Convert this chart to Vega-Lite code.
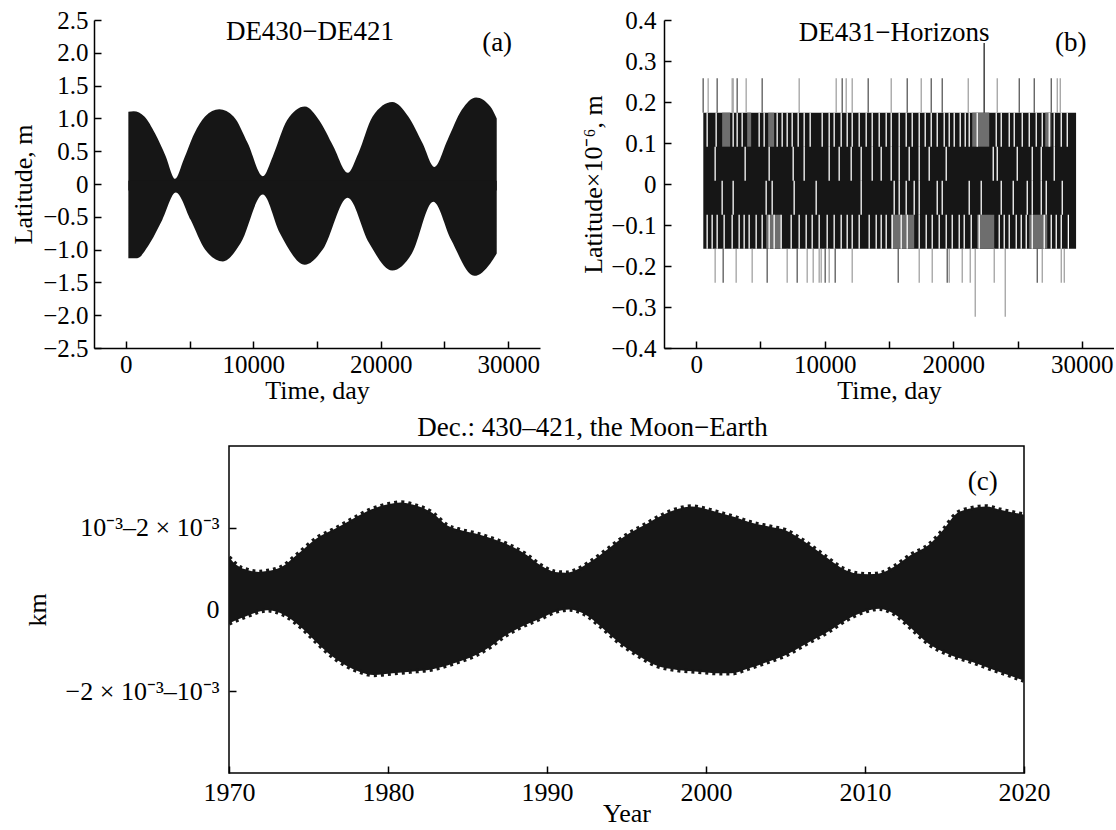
{
  "$schema": "https://vega.github.io/schema/vega-lite/v6.json",
  "background": "white",
  "padding": {"left": 10, "top": 8, "right": 0, "bottom": 0},
  "config": {
    "font": "Liberation Serif",
    "view": {"stroke": null},
    "axis": {
      "grid": false,
      "domainColor": "black",
      "domainWidth": 1.5,
      "tickColor": "black",
      "tickWidth": 1.5,
      "tickSize": -7,
      "labelColor": "black",
      "titleColor": "black",
      "labelFont": "Liberation Serif",
      "titleFont": "Liberation Serif",
      "labelFontSize": 25,
      "titleFontSize": 26,
      "titleFontWeight": "normal",
      "labelOverlap": false,
      "labelFlush": false
    },
    "text": {"font": "Liberation Serif", "fontSize": 27, "color": "black"},
    "title": {"font": "Liberation Serif", "fontSize": 27, "fontWeight": "normal", "color": "black"}
  },
  "datasets": {
    "aUp": [
      {"day": 196, "v": 1.10}, {"day": 615, "v": 1.11}, {"day": 1455, "v": 1.03}, {"day": 2295, "v": 0.77},
      {"day": 3134, "v": 0.42}, {"day": 3860, "v": 0.08}, {"day": 4534, "v": 0.37}, {"day": 5373, "v": 0.77},
      {"day": 6213, "v": 1.03}, {"day": 7332, "v": 1.14}, {"day": 8451, "v": 1.03}, {"day": 9571, "v": 0.62},
      {"day": 10746, "v": 0.12}, {"day": 11530, "v": 0.42}, {"day": 12649, "v": 0.97}, {"day": 14049, "v": 1.18},
      {"day": 15168, "v": 0.97}, {"day": 16287, "v": 0.57}, {"day": 17407, "v": 0.17}, {"day": 18246, "v": 0.47},
      {"day": 19366, "v": 1.03}, {"day": 20905, "v": 1.25}, {"day": 22164, "v": 1.03}, {"day": 23284, "v": 0.62},
      {"day": 24207, "v": 0.26}, {"day": 25243, "v": 0.67}, {"day": 26362, "v": 1.13}, {"day": 27481, "v": 1.32},
      {"day": 28601, "v": 1.18}, {"day": 29104, "v": 1.00}
    ],
    "aLo": [
      {"day": 196, "v": -1.13}, {"day": 895, "v": -1.13}, {"day": 1735, "v": -0.95}, {"day": 2855, "v": -0.55},
      {"day": 3918, "v": -0.13}, {"day": 5093, "v": -0.55}, {"day": 6213, "v": -1.0}, {"day": 7612, "v": -1.18},
      {"day": 9011, "v": -0.90}, {"day": 10746, "v": -0.16}, {"day": 12090, "v": -0.75}, {"day": 14049, "v": -1.23},
      {"day": 15448, "v": -1.0}, {"day": 17407, "v": -0.21}, {"day": 19086, "v": -0.90}, {"day": 20905, "v": -1.32},
      {"day": 22444, "v": -1.06}, {"day": 24123, "v": -0.27}, {"day": 25522, "v": -0.85}, {"day": 27341, "v": -1.40},
      {"day": 28601, "v": -1.21}, {"day": 29104, "v": -1.06}
    ],
    "bBand": [{"day": 557, "day2": 29550, "lo": -0.158, "hi": 0.174}],
    "bGray": [
      {"day": 2023, "day2": 2645, "lo": 0.091, "hi": 0.174},
      {"day": 3968, "day2": 4279, "lo": 0.091, "hi": 0.174},
      {"day": 5602, "day2": 6068, "lo": 0.091, "hi": 0.174},
      {"day": 21473, "day2": 22795, "lo": 0.091, "hi": 0.174},
      {"day": 27152, "day2": 27619, "lo": 0.091, "hi": 0.174},
      {"day": 5446, "day2": 6613, "lo": -0.158, "hi": -0.075},
      {"day": 15171, "day2": 16960, "lo": -0.158, "hi": -0.075},
      {"day": 21862, "day2": 23184, "lo": -0.158, "hi": -0.075},
      {"day": 25907, "day2": 27308, "lo": -0.158, "hi": -0.075}
    ],
    "bGaps": [
      {"day": 856, "lo": 0.091, "hi": 0.174}, {"day": 1556, "lo": 0.091, "hi": 0.174}, {"day": 2879, "lo": 0.091, "hi": 0.174},
      {"day": 3190, "lo": 0.091, "hi": 0.174}, {"day": 3579, "lo": 0.091, "hi": 0.174}, {"day": 4901, "lo": 0.091, "hi": 0.174},
      {"day": 5290, "lo": 0.091, "hi": 0.174}, {"day": 6302, "lo": 0.091, "hi": 0.174}, {"day": 6691, "lo": 0.091, "hi": 0.174},
      {"day": 7080, "lo": 0.091, "hi": 0.174}, {"day": 7469, "lo": 0.091, "hi": 0.174}, {"day": 7936, "lo": 0.091, "hi": 0.174},
      {"day": 8402, "lo": 0.091, "hi": 0.174}, {"day": 8869, "lo": 0.091, "hi": 0.174}, {"day": 9803, "lo": 0.091, "hi": 0.174},
      {"day": 10347, "lo": 0.091, "hi": 0.174}, {"day": 10736, "lo": 0.091, "hi": 0.174}, {"day": 11281, "lo": 0.091, "hi": 0.174},
      {"day": 11748, "lo": 0.091, "hi": 0.174}, {"day": 12137, "lo": 0.091, "hi": 0.174}, {"day": 12681, "lo": 0.091, "hi": 0.174},
      {"day": 13226, "lo": 0.091, "hi": 0.174}, {"day": 13693, "lo": 0.091, "hi": 0.174}, {"day": 14237, "lo": 0.091, "hi": 0.174},
      {"day": 14782, "lo": 0.091, "hi": 0.174}, {"day": 15171, "lo": 0.091, "hi": 0.174}, {"day": 15793, "lo": 0.091, "hi": 0.174},
      {"day": 16338, "lo": 0.091, "hi": 0.174}, {"day": 16805, "lo": 0.091, "hi": 0.174}, {"day": 17349, "lo": 0.091, "hi": 0.174},
      {"day": 17816, "lo": 0.091, "hi": 0.174}, {"day": 18283, "lo": 0.091, "hi": 0.174}, {"day": 18750, "lo": 0.091, "hi": 0.174},
      {"day": 19294, "lo": 0.091, "hi": 0.174}, {"day": 19683, "lo": 0.091, "hi": 0.174}, {"day": 20072, "lo": 0.091, "hi": 0.174},
      {"day": 20539, "lo": 0.091, "hi": 0.174}, {"day": 20928, "lo": 0.091, "hi": 0.174}, {"day": 21239, "lo": 0.091, "hi": 0.174},
      {"day": 21862, "lo": 0.091, "hi": 0.174}, {"day": 23340, "lo": 0.091, "hi": 0.174}, {"day": 23729, "lo": 0.091, "hi": 0.174},
      {"day": 24351, "lo": 0.091, "hi": 0.174}, {"day": 24740, "lo": 0.091, "hi": 0.174}, {"day": 25363, "lo": 0.091, "hi": 0.174},
      {"day": 25907, "lo": 0.091, "hi": 0.174}, {"day": 26452, "lo": 0.091, "hi": 0.174}, {"day": 26919, "lo": 0.091, "hi": 0.174},
      {"day": 27463, "lo": 0.091, "hi": 0.174}, {"day": 27852, "lo": 0.091, "hi": 0.174}, {"day": 28397, "lo": 0.091, "hi": 0.174},
      {"day": 28864, "lo": 0.091, "hi": 0.174},
      {"day": 1478, "lo": 0.008, "hi": 0.091}, {"day": 3812, "lo": 0.008, "hi": 0.091}, {"day": 5679, "lo": 0.008, "hi": 0.091},
      {"day": 7547, "lo": 0.008, "hi": 0.091}, {"day": 8402, "lo": 0.008, "hi": 0.091}, {"day": 10347, "lo": 0.008, "hi": 0.091},
      {"day": 11125, "lo": 0.008, "hi": 0.091}, {"day": 12059, "lo": 0.008, "hi": 0.091}, {"day": 12837, "lo": 0.008, "hi": 0.091},
      {"day": 13693, "lo": 0.008, "hi": 0.091}, {"day": 14393, "lo": 0.008, "hi": 0.091}, {"day": 15171, "lo": 0.008, "hi": 0.091},
      {"day": 15793, "lo": 0.008, "hi": 0.091}, {"day": 16571, "lo": 0.008, "hi": 0.091}, {"day": 17349, "lo": 0.008, "hi": 0.091},
      {"day": 18127, "lo": 0.008, "hi": 0.091}, {"day": 19450, "lo": 0.008, "hi": 0.091}, {"day": 23107, "lo": 0.008, "hi": 0.091},
      {"day": 23418, "lo": 0.008, "hi": 0.091}, {"day": 24974, "lo": 0.008, "hi": 0.091}, {"day": 26141, "lo": 0.008, "hi": 0.091},
      {"day": 26841, "lo": 0.008, "hi": 0.091}, {"day": 27852, "lo": 0.008, "hi": 0.091},
      {"day": 2023, "lo": -0.075, "hi": 0.008}, {"day": 2879, "lo": -0.075, "hi": 0.008}, {"day": 5446, "lo": -0.075, "hi": 0.008},
      {"day": 5913, "lo": -0.075, "hi": 0.008}, {"day": 7624, "lo": -0.075, "hi": 0.008}, {"day": 9336, "lo": -0.075, "hi": 0.008},
      {"day": 12837, "lo": -0.075, "hi": 0.008}, {"day": 15404, "lo": -0.075, "hi": 0.008}, {"day": 15793, "lo": -0.075, "hi": 0.008},
      {"day": 16338, "lo": -0.075, "hi": 0.008}, {"day": 16960, "lo": -0.075, "hi": 0.008}, {"day": 17349, "lo": -0.075, "hi": 0.008},
      {"day": 18750, "lo": -0.075, "hi": 0.008}, {"day": 19139, "lo": -0.075, "hi": 0.008}, {"day": 21239, "lo": -0.075, "hi": 0.008},
      {"day": 22173, "lo": -0.075, "hi": 0.008}, {"day": 23729, "lo": -0.075, "hi": 0.008}, {"day": 24663, "lo": -0.075, "hi": 0.008},
      {"day": 25752, "lo": -0.075, "hi": 0.008}, {"day": 26141, "lo": -0.075, "hi": 0.008}, {"day": 26841, "lo": -0.075, "hi": 0.008},
      {"day": 27230, "lo": -0.075, "hi": 0.008}, {"day": 28475, "lo": -0.075, "hi": 0.008},
      {"day": 856, "lo": -0.158, "hi": -0.075}, {"day": 1245, "lo": -0.158, "hi": -0.075}, {"day": 1634, "lo": -0.158, "hi": -0.075},
      {"day": 2178, "lo": -0.158, "hi": -0.075}, {"day": 2801, "lo": -0.158, "hi": -0.075}, {"day": 3345, "lo": -0.158, "hi": -0.075},
      {"day": 3734, "lo": -0.158, "hi": -0.075}, {"day": 4123, "lo": -0.158, "hi": -0.075}, {"day": 4668, "lo": -0.158, "hi": -0.075},
      {"day": 5135, "lo": -0.158, "hi": -0.075}, {"day": 5679, "lo": -0.158, "hi": -0.075}, {"day": 6068, "lo": -0.158, "hi": -0.075},
      {"day": 6613, "lo": -0.158, "hi": -0.075}, {"day": 7391, "lo": -0.158, "hi": -0.075}, {"day": 8013, "lo": -0.158, "hi": -0.075},
      {"day": 8558, "lo": -0.158, "hi": -0.075}, {"day": 9025, "lo": -0.158, "hi": -0.075}, {"day": 9569, "lo": -0.158, "hi": -0.075},
      {"day": 10192, "lo": -0.158, "hi": -0.075}, {"day": 10736, "lo": -0.158, "hi": -0.075}, {"day": 11281, "lo": -0.158, "hi": -0.075},
      {"day": 11748, "lo": -0.158, "hi": -0.075}, {"day": 12137, "lo": -0.158, "hi": -0.075}, {"day": 12681, "lo": -0.158, "hi": -0.075},
      {"day": 13459, "lo": -0.158, "hi": -0.075}, {"day": 14004, "lo": -0.158, "hi": -0.075}, {"day": 14393, "lo": -0.158, "hi": -0.075},
      {"day": 14782, "lo": -0.158, "hi": -0.075}, {"day": 15249, "lo": -0.158, "hi": -0.075}, {"day": 15949, "lo": -0.158, "hi": -0.075},
      {"day": 16416, "lo": -0.158, "hi": -0.075}, {"day": 17349, "lo": -0.158, "hi": -0.075}, {"day": 17894, "lo": -0.158, "hi": -0.075},
      {"day": 18361, "lo": -0.158, "hi": -0.075}, {"day": 18905, "lo": -0.158, "hi": -0.075}, {"day": 19450, "lo": -0.158, "hi": -0.075},
      {"day": 19917, "lo": -0.158, "hi": -0.075}, {"day": 20461, "lo": -0.158, "hi": -0.075}, {"day": 20850, "lo": -0.158, "hi": -0.075},
      {"day": 21395, "lo": -0.158, "hi": -0.075}, {"day": 22017, "lo": -0.158, "hi": -0.075}, {"day": 23573, "lo": -0.158, "hi": -0.075},
      {"day": 23962, "lo": -0.158, "hi": -0.075}, {"day": 24351, "lo": -0.158, "hi": -0.075}, {"day": 24896, "lo": -0.158, "hi": -0.075},
      {"day": 25285, "lo": -0.158, "hi": -0.075}, {"day": 25674, "lo": -0.158, "hi": -0.075}, {"day": 26141, "lo": -0.158, "hi": -0.075},
      {"day": 27074, "lo": -0.158, "hi": -0.075}, {"day": 27619, "lo": -0.158, "hi": -0.075}, {"day": 28008, "lo": -0.158, "hi": -0.075},
      {"day": 28397, "lo": -0.158, "hi": -0.075}, {"day": 28950, "lo": -0.158, "hi": -0.075}
    ],
    "bSpikes": [
      {"day": 545, "lo": 0.174, "hi": 0.258, "shade": "d"}, {"day": 934, "lo": 0.174, "hi": 0.258, "shade": "l"},
      {"day": 1634, "lo": 0.174, "hi": 0.258, "shade": "d"}, {"day": 2801, "lo": 0.174, "hi": 0.258, "shade": "l"},
      {"day": 2879, "lo": 0.174, "hi": 0.258, "shade": "l"}, {"day": 3190, "lo": 0.174, "hi": 0.258, "shade": "d"},
      {"day": 3890, "lo": 0.174, "hi": 0.258, "shade": "l"}, {"day": 5135, "lo": 0.174, "hi": 0.258, "shade": "d"},
      {"day": 8013, "lo": 0.174, "hi": 0.258, "shade": "l"}, {"day": 10892, "lo": 0.174, "hi": 0.258, "shade": "l"},
      {"day": 11359, "lo": 0.174, "hi": 0.258, "shade": "d"}, {"day": 11670, "lo": 0.174, "hi": 0.258, "shade": "l"},
      {"day": 12137, "lo": 0.174, "hi": 0.258, "shade": "l"}, {"day": 13381, "lo": 0.174, "hi": 0.258, "shade": "d"},
      {"day": 15171, "lo": 0.174, "hi": 0.258, "shade": "l"}, {"day": 16416, "lo": 0.174, "hi": 0.258, "shade": "d"},
      {"day": 17505, "lo": 0.174, "hi": 0.258, "shade": "l"}, {"day": 18283, "lo": 0.174, "hi": 0.258, "shade": "d"},
      {"day": 19139, "lo": 0.174, "hi": 0.258, "shade": "d"}, {"day": 21162, "lo": 0.174, "hi": 0.258, "shade": "l"},
      {"day": 23418, "lo": 0.174, "hi": 0.258, "shade": "l"}, {"day": 25130, "lo": 0.174, "hi": 0.258, "shade": "d"},
      {"day": 26296, "lo": 0.174, "hi": 0.258, "shade": "d"}, {"day": 27619, "lo": 0.174, "hi": 0.258, "shade": "d"},
      {"day": 28086, "lo": 0.174, "hi": 0.258, "shade": "l"}, {"day": 28319, "lo": 0.174, "hi": 0.258, "shade": "l"},
      {"day": 22400, "lo": 0.174, "hi": 0.344, "shade": "k"},
      {"day": 1478, "lo": -0.241, "hi": -0.158, "shade": "l"}, {"day": 2101, "lo": -0.241, "hi": -0.158, "shade": "d"},
      {"day": 3112, "lo": -0.241, "hi": -0.158, "shade": "l"}, {"day": 4357, "lo": -0.241, "hi": -0.158, "shade": "l"},
      {"day": 5524, "lo": -0.241, "hi": -0.158, "shade": "d"}, {"day": 7080, "lo": -0.241, "hi": -0.158, "shade": "l"},
      {"day": 7858, "lo": -0.241, "hi": -0.158, "shade": "d"}, {"day": 8636, "lo": -0.241, "hi": -0.158, "shade": "l"},
      {"day": 9103, "lo": -0.241, "hi": -0.158, "shade": "l"}, {"day": 9569, "lo": -0.241, "hi": -0.158, "shade": "l"},
      {"day": 9725, "lo": -0.241, "hi": -0.158, "shade": "l"}, {"day": 10036, "lo": -0.241, "hi": -0.158, "shade": "d"},
      {"day": 10347, "lo": -0.241, "hi": -0.158, "shade": "l"}, {"day": 10814, "lo": -0.241, "hi": -0.158, "shade": "d"},
      {"day": 12137, "lo": -0.241, "hi": -0.158, "shade": "l"}, {"day": 15716, "lo": -0.241, "hi": -0.158, "shade": "d"},
      {"day": 17349, "lo": -0.241, "hi": -0.158, "shade": "l"}, {"day": 18361, "lo": -0.241, "hi": -0.158, "shade": "l"},
      {"day": 19528, "lo": -0.241, "hi": -0.158, "shade": "d"}, {"day": 19683, "lo": -0.241, "hi": -0.158, "shade": "l"},
      {"day": 20695, "lo": -0.241, "hi": -0.158, "shade": "l"}, {"day": 21317, "lo": -0.241, "hi": -0.158, "shade": "l"},
      {"day": 23184, "lo": -0.241, "hi": -0.158, "shade": "l"}, {"day": 26530, "lo": -0.241, "hi": -0.158, "shade": "d"},
      {"day": 26919, "lo": -0.241, "hi": -0.158, "shade": "l"}, {"day": 28397, "lo": -0.241, "hi": -0.158, "shade": "l"},
      {"day": 28631, "lo": -0.241, "hi": -0.158, "shade": "l"},
      {"day": 21706, "lo": -0.324, "hi": -0.158, "shade": "l"}, {"day": 24040, "lo": -0.324, "hi": -0.158, "shade": "l"}
    ],
    "cUp": [
      {"year": 1970, "v": 0.64}, {"year": 1970.5, "v": 0.54}, {"year": 1971.2, "v": 0.48}, {"year": 1971.9, "v": 0.46},
      {"year": 1972.4, "v": 0.47}, {"year": 1973.3, "v": 0.52}, {"year": 1974.4, "v": 0.69}, {"year": 1975.5, "v": 0.87},
      {"year": 1976.7, "v": 0.99}, {"year": 1977.8, "v": 1.11}, {"year": 1978.9, "v": 1.22}, {"year": 1980.1, "v": 1.29},
      {"year": 1980.8, "v": 1.31}, {"year": 1981.6, "v": 1.28}, {"year": 1982.8, "v": 1.18}, {"year": 1983.7, "v": 1.03},
      {"year": 1984.6, "v": 0.97}, {"year": 1985.5, "v": 0.93}, {"year": 1986.8, "v": 0.85}, {"year": 1987.8, "v": 0.77},
      {"year": 1988.7, "v": 0.67}, {"year": 1989.6, "v": 0.54}, {"year": 1990.5, "v": 0.46}, {"year": 1991.2, "v": 0.45},
      {"year": 1991.8, "v": 0.48}, {"year": 1992.7, "v": 0.58}, {"year": 1993.9, "v": 0.75}, {"year": 1995.0, "v": 0.91},
      {"year": 1996.1, "v": 1.03}, {"year": 1997.3, "v": 1.16}, {"year": 1998.4, "v": 1.24}, {"year": 1999.1, "v": 1.26},
      {"year": 2000.0, "v": 1.23}, {"year": 2000.9, "v": 1.18}, {"year": 2001.8, "v": 1.13}, {"year": 2002.7, "v": 1.07},
      {"year": 2004.1, "v": 1.01}, {"year": 2005.0, "v": 0.97}, {"year": 2005.9, "v": 0.87}, {"year": 2006.8, "v": 0.75},
      {"year": 2007.7, "v": 0.62}, {"year": 2008.6, "v": 0.50}, {"year": 2009.5, "v": 0.44}, {"year": 2010.2, "v": 0.43},
      {"year": 2010.9, "v": 0.44}, {"year": 2011.8, "v": 0.52}, {"year": 2012.9, "v": 0.67}, {"year": 2014.0, "v": 0.79},
      {"year": 2014.9, "v": 0.97}, {"year": 2015.8, "v": 1.18}, {"year": 2016.7, "v": 1.24}, {"year": 2017.6, "v": 1.26},
      {"year": 2018.5, "v": 1.22}, {"year": 2020, "v": 1.16}
    ],
    "cLo": [
      {"year": 1970, "v": -0.17}, {"year": 1971, "v": -0.09}, {"year": 1972.4, "v": -0.01}, {"year": 1973.5, "v": -0.07},
      {"year": 1974.6, "v": -0.23}, {"year": 1975.5, "v": -0.40}, {"year": 1976.4, "v": -0.56}, {"year": 1977.3, "v": -0.68},
      {"year": 1978.2, "v": -0.76}, {"year": 1979.1, "v": -0.80}, {"year": 1980.3, "v": -0.78}, {"year": 1981.4, "v": -0.76},
      {"year": 1982.8, "v": -0.73}, {"year": 1984.1, "v": -0.66}, {"year": 1985.5, "v": -0.56}, {"year": 1986.4, "v": -0.46},
      {"year": 1987.3, "v": -0.33}, {"year": 1988.4, "v": -0.21}, {"year": 1989.6, "v": -0.11}, {"year": 1990.5, "v": -0.03},
      {"year": 1991.4, "v": 0.0}, {"year": 1992.3, "v": -0.05}, {"year": 1993.5, "v": -0.23}, {"year": 1994.5, "v": -0.40},
      {"year": 1995.7, "v": -0.56}, {"year": 1996.8, "v": -0.68}, {"year": 1998.2, "v": -0.74}, {"year": 1999.5, "v": -0.76},
      {"year": 2000.9, "v": -0.78}, {"year": 2001.6, "v": -0.78}, {"year": 2002.7, "v": -0.72}, {"year": 2003.9, "v": -0.64},
      {"year": 2005.0, "v": -0.56}, {"year": 2006.3, "v": -0.42}, {"year": 2007.7, "v": -0.27}, {"year": 2008.8, "v": -0.13},
      {"year": 2009.9, "v": -0.03}, {"year": 2010.9, "v": 0.01}, {"year": 2011.8, "v": -0.05}, {"year": 2012.9, "v": -0.23},
      {"year": 2014.0, "v": -0.42}, {"year": 2015.4, "v": -0.56}, {"year": 2016.7, "v": -0.64}, {"year": 2018.1, "v": -0.74},
      {"year": 2019.0, "v": -0.80}, {"year": 2020, "v": -0.87}
    ]
  },
  "bounds": "flush",
  "spacing": 426,
  "vconcat": [
    {
      "bounds": "flush",
      "spacing": 124,
      "hconcat": [
        {
          "width": 446,
          "height": 328,
          "encoding": {
            "x": {"field": "day", "type": "quantitative",
              "scale": {"domain": [-2500, 32500], "nice": false, "zero": false},
              "axis": {"title": "Time, day", "values": [0, 5000, 10000, 15000, 20000, 25000, 30000],
                "labelExpr": "datum.value % 10000 === 0 ? format(datum.value, 'd') : ''",
                "labelPadding": 11, "titlePadding": 0}},
            "y": {"field": "v", "type": "quantitative",
              "scale": {"domain": [-2.5, 2.5], "nice": false, "zero": false},
              "axis": {"title": "Latitude, m", "values": [-2.5, -2, -1.5, -1, -0.5, 0, 0.5, 1, 1.5, 2, 2.5],
                "labelExpr": "datum.value === 0 ? '0' : format(datum.value, '.1f')",
                "labelPadding": 13, "titlePadding": 6}}
          },
          "layer": [
            {"data": {"name": "aUp"}, "mark": {"type": "area", "color": "#161616", "interpolate": "monotone"},
              "encoding": {"y2": {"datum": -0.1}}},
            {"data": {"name": "aLo"}, "mark": {"type": "area", "color": "#161616", "interpolate": "monotone"},
              "encoding": {"y2": {"datum": 0.05}}},
            {"data": {"values": [{"day": 14450, "v": 2.317, "t": "DE430−DE421"}, {"day": 29135, "v": 2.15, "t": "(a)"}]},
              "mark": {"type": "text", "fontSize": 27},
              "encoding": {"text": {"field": "t"}}}
          ]
        },
        {
          "width": 450,
          "height": 328,
          "encoding": {
            "x": {"field": "day", "type": "quantitative",
              "scale": {"domain": [-2500, 32500], "nice": false, "zero": false},
              "axis": {"title": "Time, day", "values": [0, 5000, 10000, 15000, 20000, 25000, 30000],
                "labelExpr": "datum.value % 10000 === 0 ? format(datum.value, 'd') : ''",
                "labelPadding": 11, "titlePadding": 0}},
            "y": {"field": "lo", "type": "quantitative",
              "scale": {"domain": [-0.4, 0.4], "nice": false, "zero": false},
              "axis": {"title": "Latitude×10⁻⁶, m", "values": [-0.4, -0.3, -0.2, -0.1, 0, 0.1, 0.2, 0.3, 0.4],
                "labelExpr": "datum.value === 0 ? '0' : format(datum.value, '.1f')",
                "labelPadding": 15, "titlePadding": 4}},
            "y2": {"field": "hi"}
          },
          "layer": [
            {"data": {"name": "bBand"}, "mark": {"type": "rect", "color": "#161616"},
              "encoding": {"x2": {"field": "day2"}}},
            {"data": {"name": "bGray"}, "mark": {"type": "rect", "color": "#6e6e6e"},
              "encoding": {"x2": {"field": "day2"}}},
            {"data": {"name": "bGaps"}, "mark": {"type": "rule", "color": "white", "strokeWidth": 1.3}, "encoding": {}},
            {"data": {"name": "bSpikes"}, "mark": {"type": "rule", "strokeWidth": 1.2},
              "encoding": {"color": {"field": "shade", "type": "nominal",
                "scale": {"domain": ["d", "l", "k"], "range": ["#4a4a4a", "#9a9a9a", "#111111"]}, "legend": null}}},
            {"data": {"values": [{"day": 15405, "lo": 0.368, "t": "DE431−Horizons"}, {"day": 29133, "lo": 0.344, "t": "(b)"}]},
              "mark": {"type": "text", "fontSize": 27},
              "encoding": {"text": {"field": "t"}, "y2": null}}
          ]
        }
      ]
    },
    {
      "bounds": "flush",
      "spacing": 134,
      "hconcat": [
        {"width": 1, "height": 327, "data": {"values": []}, "mark": "point"},
        {
          "width": 795,
          "height": 327,
          "view": {"stroke": "black", "strokeWidth": 1.5},
          "title": {"text": "Dec.: 430–421, the Moon−Earth", "anchor": "middle", "offset": 4, "dx": -34, "fontSize": 27},
          "encoding": {
            "x": {"field": "year", "type": "quantitative",
              "scale": {"domain": [1970, 2020], "nice": false, "zero": false},
              "axis": {"title": "Year", "values": [1970, 1980, 1990, 2000, 2010, 2020], "format": "d",
                "domain": false, "labelPadding": 13, "titlePadding": -5, "labelFontSize": 26}},
            "y": {"field": "v", "type": "quantitative",
              "scale": {"domain": [-2, 2], "nice": false, "zero": false},
              "axis": {"title": "km", "values": [-1, 0, 1], "domain": false,
                "labelExpr": "datum.value === 1 ? '10⁻³–2 × 10⁻³' : (datum.value === -1 ? '−2 × 10⁻³–10⁻³' : '0')",
                "tickOpacity": {"condition": {"test": "datum.value === 0", "value": 0}, "value": 1},
                "labelPadding": 17, "titlePadding": 15, "labelFontSize": 26}}
          },
          "layer": [
            {"data": {"name": "cUp"}, "mark": {"type": "area", "color": "#161616", "interpolate": "monotone"},
              "encoding": {"y2": {"datum": 0.1}}},
            {"data": {"name": "cLo"}, "mark": {"type": "area", "color": "#161616", "interpolate": "monotone"},
              "encoding": {"y2": {"datum": 0.3}}},
            {"data": {"name": "cUp"}, "mark": {"type": "line", "color": "#161616", "strokeWidth": 4.5, "strokeDash": [3, 4], "interpolate": "monotone", "clip": true},
              "encoding": {}},
            {"data": {"name": "cLo"}, "mark": {"type": "line", "color": "#161616", "strokeWidth": 4.5, "strokeDash": [3, 4], "interpolate": "monotone", "clip": true},
              "encoding": {}},
            {"data": {"values": [{"year": 2017.4, "v": 1.56, "t": "(c)"}]},
              "mark": {"type": "text", "fontSize": 27},
              "encoding": {"text": {"field": "t"}}}
          ]
        }
      ]
    }
  ]
}
